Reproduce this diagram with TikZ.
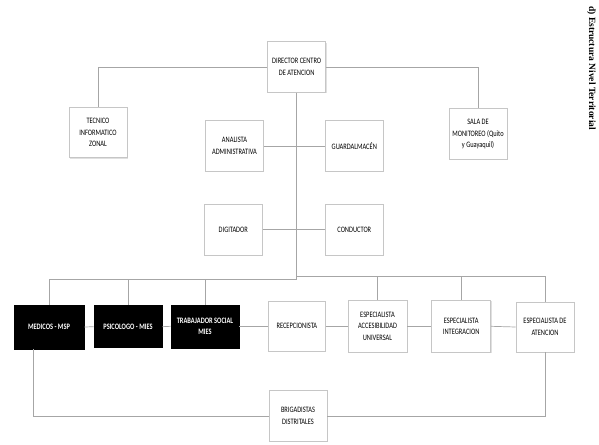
\documentclass[tikz,border=0pt]{standalone}
\usepackage{fontspec}
\newfontfamily\boxfont[FakeStretch=0.77]{Carlito}
\newfontfamily\titlefont{Liberation Serif}
\usetikzlibrary{shadows}
\begin{document}
\begin{tikzpicture}[x=1pt,y=-1pt,
  box/.style={draw=gray!45, fill=white, line width=0.6pt, minimum width=58pt,
    minimum height=50.5pt, inner sep=1pt, align=center,
    font=\boxfont\fontsize{8.3}{11.5}\selectfont, text=black,
    drop shadow={shadow xshift=0.8pt, shadow yshift=-0.8pt, fill=gray!40, opacity=0.6}},
  blk/.style={draw=black, fill=black, line width=0.6pt, minimum width=68pt,
    minimum height=43pt, inner sep=1pt, align=center, text=white,
    font=\boxfont\bfseries\fontsize{8.3}{11.5}\selectfont},
  conn/.style={draw=gray!70, line width=0.7pt}]
\fill[white] (0,0) rectangle (599,444);
\useasboundingbox (0,0) rectangle (599,444);

\node[rotate=-90, anchor=west, inner sep=0pt, font=\titlefont\bfseries\fontsize{9.5}{10}\selectfont] (title) at (591.5,6) {d) Estructura Nivel Territorial};

\node[box] (dir) at (296.7,67) {DIRECTOR CENTRO\\DE ATENCION};
\node[box] (tec) at (98,132.5) {TECNICO\\INFORMATICO\\ZONAL};
\node[box] (sal) at (478,134) {SALA DE\\MONITOREO (Quito\\y Guayaquil)};
\node[box] (ana) at (234.5,146) {ANALISTA\\ADMINISTRATIVA};
\node[box] (gua) at (354.3,146) {GUARDALMACÉN};
\node[box] (dig) at (233.3,229.6) {DIGITADOR};
\node[box] (con) at (354.3,229.6) {CONDUCTOR};

\node[blk, minimum width=70pt, minimum height=44pt] (med) at (49,327) {MEDICOS - MSP};
\node[blk, minimum height=42pt] (psi) at (128,326.7) {PSICOLOGO - MIES};
\node[blk] (tra) at (205,326.3) {TRABAJADOR SOCIAL\\MIES};
\node[box, minimum width=57.7pt, minimum height=49.3pt] (rec) at (296.8,326.3) {RECEPCIONISTA};
\node[box, minimum width=59pt, minimum height=51.3pt] (acc) at (377.5,326.3) {ESPECIALISTA\\ACCESIBILIDAD\\UNIVERSAL};
\node[box, minimum width=59pt, minimum height=51.3pt] (int) at (461.2,326.3) {ESPECIALISTA\\INTEGRACION};
\node[box, minimum width=58.3pt, minimum height=50pt] (ate) at (545,327) {ESPECIALISTA DE\\ATENCION};
\node[box] (bri) at (298,416) {BRIGADISTAS\\DISTRITALES};

\coordinate (tl) at (296.7,279.3);
\coordinate (tr) at (296.7,276);

\draw[conn] (dir.west) -| (tec.north);
\draw[conn] (dir.east) -| (sal.north);
\draw[conn] (dir.south) -- (tl);
\draw[conn] (ana.east) -- (gua.west);
\draw[conn] (dig.east) -- (con.west);
\draw[conn] (tl) -| (med.north);
\draw[conn] (tl) -| (psi.north);
\draw[conn] (tl) -| (tra.north);
\draw[conn] (tr) -| (acc.north);
\draw[conn] (tr) -| (int.north);
\draw[conn] (tr) -| (ate.north);
\draw[conn] (med.east) -- (psi.west);
\draw[conn] (psi.east) -- (tra.west);
\draw[conn] (tra.east) -- (rec.west);
\draw[conn] (rec.east) -- (acc.west);
\draw[conn] (acc.east) -- (int.west);
\draw[conn] (int.east) -- (ate.west);
\draw[conn] ([xshift=-16pt]med.south) |- (bri.west);
\draw[conn] (ate.south) |- (bri.east);
\end{tikzpicture}
\end{document}
